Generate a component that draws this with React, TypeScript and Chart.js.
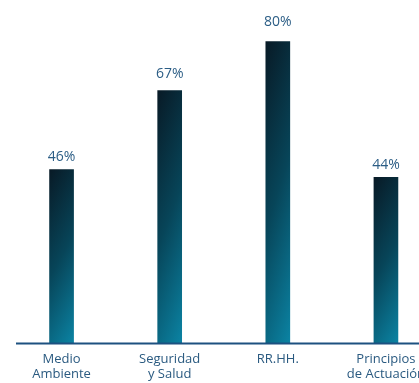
import React, { useEffect, useRef } from "react";
import { Chart, registerables } from "chart.js";

Chart.register(...registerables);

const categories: (string | string[])[] = [
  ["Medio", "Ambiente"],
  ["Seguridad", "y Salud"],
  "RR.HH.",
  ["Principios", "de Actuación"],
];
const values = [46, 67, 80, 44];
const valueLabels = ["46%", "67%", "80%", "44%"];

const FONT = "'Open Sans', 'Noto Sans', sans-serif";

function barGradient(chart: any, index: number) {
  const area = chart.chartArea;
  const xs = chart.scales?.x;
  const ys = chart.scales?.y;
  if (!area || !xs || !ys) return "#0a4a60";
  const cx = xs.getPixelForValue(index);
  const top = ys.getPixelForValue(values[index]);
  const bottom = ys.getPixelForValue(0);
  const w = 24;
  const H = Math.max(1, bottom - top);
  const left = cx - w / 2;
  const S = 1 / (0.04 / (w * w) + 0.64 / (H * H));
  const dx = (0.2 * S) / w;
  const dy = (0.8 * S) / H;
  const g = chart.ctx.createLinearGradient(left, top, left + dx, top + dy);
  g.addColorStop(0, "#081a26");
  g.addColorStop(0.5, "#074559");
  g.addColorStop(1, "#0b83a3");
  return g;
}

const overlayPlugin = {
  id: "overlay",
  afterDatasetsDraw(chart: any) {
    const ctx = chart.ctx;
    const ys = chart.scales.y;
    const base = ys.getPixelForValue(0);
    ctx.save();
    ctx.strokeStyle = "#1d5180";
    ctx.lineWidth = 2;
    ctx.beginPath();
    ctx.moveTo(16, base + 0.5);
    ctx.lineTo(chart.width, base + 0.5);
    ctx.stroke();
    const meta = chart.getDatasetMeta(0);
    ctx.fillStyle = "#2b5d85";
    ctx.font = `14px ${FONT}`;
    ctx.textAlign = "center";
    ctx.textBaseline = "alphabetic";
    meta.data.forEach((el: any, i: number) => {
      ctx.fillText(valueLabels[i], el.x, ys.getPixelForValue(values[i] * 1.05));
    });
    ctx.restore();
  },
};

export default function App() {
  const ref = useRef<HTMLCanvasElement | null>(null);
  useEffect(() => {
    if (!ref.current) return;
    const chart = new Chart(ref.current, {
      type: "bar",
      data: {
        labels: categories,
        datasets: [
          {
            data: values,
            barThickness: 24,
            backgroundColor: (c: any) => barGradient(c.chart, c.dataIndex),
            borderWidth: 0,
          },
        ],
      },
      options: {
        responsive: false,
        animation: false,
        layout: { padding: { left: 7.5, right: 10, top: 0, bottom: 2 } },
        plugins: { legend: { display: false }, tooltip: { enabled: false } },
        scales: {
          x: {
            grid: { display: false, drawTicks: false },
            border: { display: false },
            ticks: {
              color: "#2a5a80",
              font: { family: FONT, size: 13, lineHeight: 1.15 },
              padding: 9,
              maxRotation: 0,
              minRotation: 0,
              autoSkip: false,
            },
          },
          y: {
            display: false,
            min: 0,
            max: 91,
          },
        },
      },
      plugins: [overlayPlugin],
    });
    return () => chart.destroy();
  }, []);
  return (
    <div
      style={{
        position: "absolute",
        left: 0,
        top: 0,
        width: 419,
        height: 383,
        overflow: "hidden",
        background: "#fff",
      }}
    >
      <canvas ref={ref} width={450} height={393} style={{ display: "block" }} />
    </div>
  );
}
